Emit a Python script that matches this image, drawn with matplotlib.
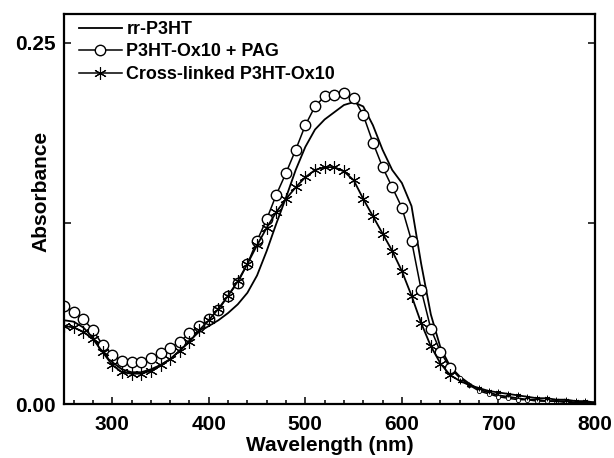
import matplotlib
matplotlib.use('Agg')
import matplotlib.pyplot as plt
from matplotlib.ticker import MultipleLocator
import numpy as np

plt.rcParams['font.family'] = ['Liberation Sans', 'DejaVu Sans']
plt.rcParams['font.weight'] = 'bold'

# wavelength grid (nm), 250..800 every 10 nm
wavelength = np.arange(250, 810, 10)

rr_p3ht = [0.058, 0.057, 0.053, 0.046, 0.037, 0.029, 0.024, 0.022, 0.022, 0.024,
           0.027, 0.031, 0.037, 0.044, 0.050, 0.054, 0.058, 0.063, 0.069, 0.077,
           0.089, 0.106, 0.125, 0.143, 0.162, 0.178, 0.190, 0.197, 0.202, 0.207,
           0.209, 0.206, 0.193, 0.176, 0.162, 0.153, 0.137, 0.097, 0.062, 0.039,
           0.026, 0.019, 0.014, 0.010, 0.008, 0.006, 0.005, 0.004, 0.003, 0.003,
           0.002, 0.002, 0.002, 0.001, 0.001, 0.001]

ox10_pag = [0.068, 0.064, 0.059, 0.051, 0.041, 0.034, 0.030, 0.029, 0.029, 0.032,
            0.035, 0.039, 0.043, 0.049, 0.054, 0.059, 0.065, 0.075, 0.084, 0.097,
            0.113, 0.128, 0.145, 0.160, 0.176, 0.193, 0.206, 0.213, 0.214, 0.215,
            0.212, 0.200, 0.181, 0.164, 0.150, 0.136, 0.113, 0.079, 0.052, 0.036,
            0.025, 0.018, 0.013, 0.009, 0.007, 0.005, 0.004, 0.003, 0.003, 0.002,
            0.002, 0.002, 0.001, 0.001, 0.001, 0.001]

crosslinked = [0.054, 0.053, 0.050, 0.045, 0.036, 0.027, 0.022, 0.021, 0.021, 0.023,
               0.027, 0.031, 0.037, 0.043, 0.051, 0.058, 0.066, 0.075, 0.085, 0.097,
               0.110, 0.122, 0.133, 0.142, 0.150, 0.157, 0.162, 0.164, 0.164, 0.161,
               0.155, 0.142, 0.130, 0.118, 0.106, 0.092, 0.075, 0.056, 0.040, 0.028,
               0.020, 0.016, 0.013, 0.011, 0.009, 0.008, 0.007, 0.006, 0.005, 0.004,
               0.004, 0.003, 0.003, 0.002, 0.002, 0.001]

labels = ['rr-P3HT', 'P3HT-Ox10 + PAG', 'Cross-linked P3HT-Ox10']

fig = plt.figure(figsize=(6.14, 4.58), dpi=100)
ax = fig.add_axes([0.1042, 0.1179, 0.8648, 0.8515])

asterisk = (6, 2, 0)
n_big = 41  # big markers up to 650 nm, small ones in the tail

ax.plot(wavelength, rr_p3ht, color='black', lw=1.3)

ax.plot(wavelength, ox10_pag, color='black', lw=1.1)
ax.plot(wavelength[:n_big], ox10_pag[:n_big], ls='none', marker='o', ms=7.5,
        mfc='white', mec='black', mew=1.0)
ax.plot(wavelength[n_big:], ox10_pag[n_big:], ls='none', marker='o', ms=3,
        mfc='white', mec='black', mew=0.6)

ax.plot(wavelength, crosslinked, color='black', lw=1.3)
ax.plot(wavelength[:n_big], crosslinked[:n_big], ls='none', marker=asterisk, ms=9,
        color='black', mew=0.8)
ax.plot(wavelength[n_big:], crosslinked[n_big:], ls='none', marker=asterisk, ms=4,
        color='black', mew=0.6)

# legend proxies
h0, = ax.plot([], [], color='black', lw=1.3)
h1, = ax.plot([], [], color='black', lw=1.1, marker='o', ms=7.5, mfc='white', mec='black')
h2, = ax.plot([], [], color='black', lw=1.1, marker=asterisk, ms=9, mew=0.8)
ax.legend([h0, h1, h2], labels, loc='upper left', bbox_to_anchor=(0.028, 0.982),
          frameon=False, borderpad=0, borderaxespad=0, handlelength=2.4,
          handletextpad=0.25, labelspacing=0.3, prop={'size': 12.9, 'weight': 'bold'})

ax.set_xlim(250, 800)
ax.set_ylim(0, 0.270)
ax.set_xticks([300, 400, 500, 600, 700, 800])
ax.xaxis.set_minor_locator(MultipleLocator(20))
ax.set_yticks([0, 0.125, 0.25])
ax.set_yticklabels(['0.00', '', '0.25'])

ax.tick_params(axis='both', which='both', direction='in', width=1.1,
               labelsize=15)
ax.tick_params(axis='x', which='major', length=5, pad=8)
ax.tick_params(axis='x', which='minor', length=3)
ax.tick_params(axis='y', which='major', length=5, pad=6, right=True)

for s in ax.spines.values():
    s.set_linewidth(1.6)

ax.set_xlabel('Wavelength (nm)', fontsize=15, fontweight='bold', labelpad=1)
ax.set_ylabel('Absorbance', fontsize=15, fontweight='bold')
ax.yaxis.set_label_coords(-0.026, 0.544)

fig.savefig('out.png', dpi=100)
